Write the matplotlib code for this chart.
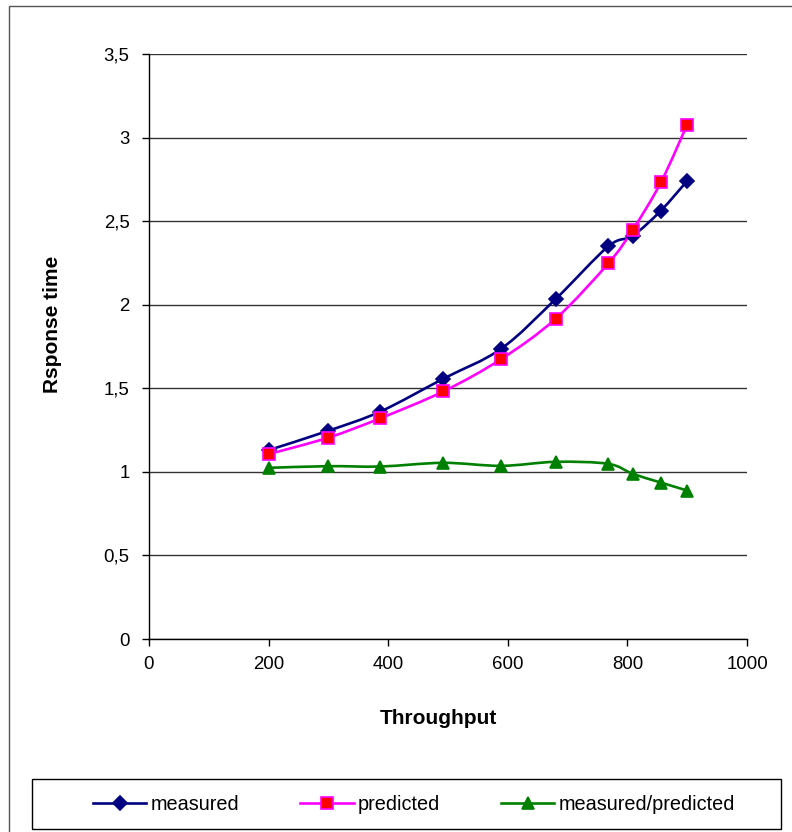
import matplotlib
matplotlib.use("Agg")
import matplotlib.pyplot as plt
from matplotlib.path import Path
from matplotlib.patches import PathPatch, Rectangle
from matplotlib.lines import Line2D
from matplotlib.ticker import FuncFormatter

plt.rcParams['font.family'] = ['Liberation Sans', 'DejaVu Sans']

# data
throughput = [200, 300, 387, 492, 589, 680, 768, 809, 856, 900]
measured = [1.13, 1.246, 1.361, 1.557, 1.737, 2.034, 2.349, 2.413, 2.563, 2.741]
predicted = [1.106, 1.205, 1.321, 1.481, 1.675, 1.916, 2.247, 2.449, 2.732, 3.078]
ratio = [1.024, 1.034, 1.032, 1.054, 1.036, 1.06, 1.048, 0.988, 0.936, 0.888]

series_names = ["measured", "predicted", "measured/predicted"]


def smooth_path(xs, ys):
    # bezier path through the points, like excel's smoothed line
    n = len(xs)
    verts = [(xs[0], ys[0])]
    codes = [Path.MOVETO]
    for i in range(n - 1):
        x0, y0 = (xs[i - 1], ys[i - 1]) if i > 0 else (xs[i], ys[i])
        x1, y1 = xs[i], ys[i]
        x2, y2 = xs[i + 1], ys[i + 1]
        x3, y3 = (xs[i + 2], ys[i + 2]) if i + 2 < n else (x2, y2)
        c1 = (x1 + (x2 - x0) / 6.0, y1 + (y2 - y0) / 6.0)
        c2 = (x2 - (x3 - x1) / 6.0, y2 - (y3 - y1) / 6.0)
        verts += [c1, c2, (x2, y2)]
        codes += [Path.CURVE4] * 3
    return Path(verts, codes)


fig = plt.figure(figsize=(7.92, 8.32), dpi=100)
ax = fig.add_axes([149 / 792, 1 - 639 / 832, 598 / 792, 585 / 832])

styles = [
    dict(color="#000080", marker="D", ms=7.5, mfc="#000080", mec="#000080"),
    dict(color="#FF00FF", marker="s", ms=8, mfc="#FF0000", mec="#FF00FF"),
    dict(color="#008000", marker="^", ms=9, mfc="#008000", mec="#008000"),
]

handles = []
for ys, st, name in zip([measured, predicted, ratio], styles, series_names):
    ax.add_patch(PathPatch(smooth_path(throughput, ys), fill=False,
                           edgecolor=st["color"], lw=1.9, zorder=3))
    ax.plot(throughput, ys, linestyle="none", marker=st["marker"], ms=st["ms"],
            mfc=st["mfc"], mec=st["mec"], mew=1.2, zorder=4)
    handles.append(Line2D([], [], color=st["color"], lw=1.9, marker=st["marker"],
                          ms=st["ms"], mfc=st["mfc"], mec=st["mec"], mew=1.2))

ax.set_xlim(0, 1000)
ax.set_ylim(0, 3.5)
ax.set_xticks([0, 200, 400, 600, 800, 1000])
ax.set_yticks([0, 0.5, 1, 1.5, 2, 2.5, 3, 3.5])
ax.yaxis.set_major_formatter(FuncFormatter(lambda v, p: f"{v:g}".replace(".", ",")))
ax.grid(axis="y", color="#333333", lw=1.0)
ax.set_axisbelow(True)
for s in ["top", "right"]:
    ax.spines[s].set_visible(False)
for s in ["left", "bottom"]:
    ax.spines[s].set_color("black")
    ax.spines[s].set_linewidth(1.0)
ax.tick_params(axis="both", direction="out", length=5, width=1, labelsize=13.4, colors="black")
ax.tick_params(axis="y", pad=9)
ax.tick_params(axis="x", pad=7)

fig.text(52 / 792, 1 - 324 / 832, "Rsponse time", rotation=90, ha="center", va="center",
         fontsize=15, fontweight="bold")
fig.text(438 / 792, 1 - 718 / 832, "Throughput", ha="center", va="center",
         fontsize=15, fontweight="bold")

# outer chart border (left/top visible)
fig.patches.append(Rectangle((9 / 792, -0.05), 1.0, 1 - 6 / 832 + 0.05, transform=fig.transFigure,
                             fill=False, edgecolor="#555555", lw=1.0))
# legend box
fig.patches.append(Rectangle((32 / 792, 1 - 829 / 832), 749 / 792, 50 / 832,
                             transform=fig.transFigure, fill=False, edgecolor="black", lw=1.0))
fig.legend(handles, series_names, loc="center", bbox_to_anchor=(414 / 792, 1 - 804 / 832),
           ncol=3, frameon=False, fontsize=14.3, handlelength=2.7, handletextpad=0.22,
           columnspacing=3.05)

fig.savefig("out.png", dpi=100, facecolor="white")
